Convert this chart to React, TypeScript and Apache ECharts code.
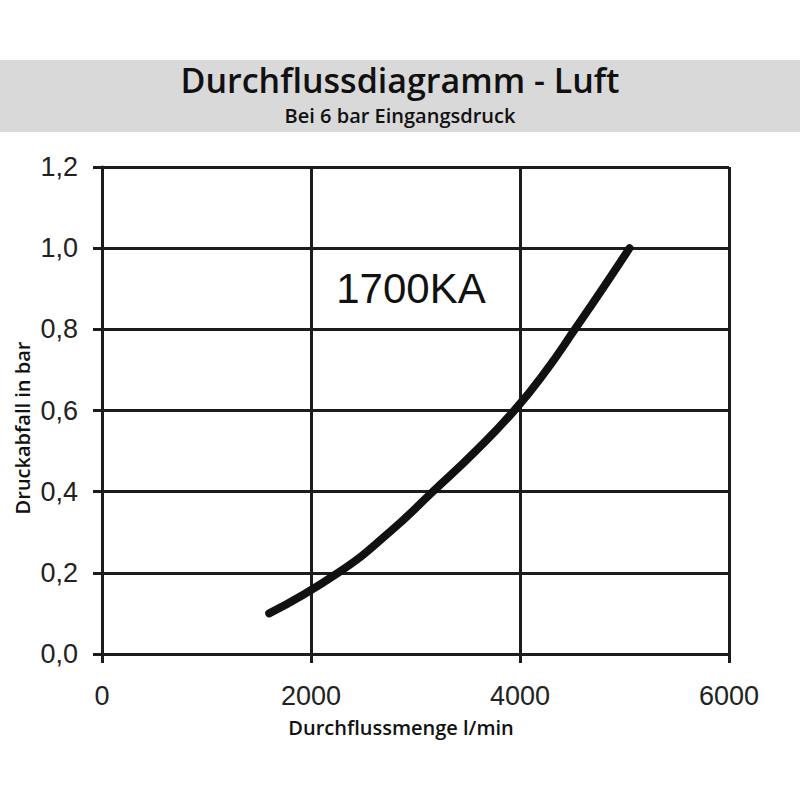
import { useEffect, useRef } from 'react'
import * as echarts from 'echarts'

// Durchflussmenge (l/min) und Druckabfall (bar)
const flow = [1600, 2258, 2750, 3166, 3575, 3945, 4255, 4525, 4790, 5048]
const pressureDrop = [0.1, 0.2, 0.3, 0.4, 0.5, 0.6, 0.7, 0.8, 0.9, 1.0]
const seriesName = '1700KA'

const INK = '#1c1c1c'

function App() {
  const chartRef = useRef<HTMLDivElement>(null)

  useEffect(() => {
    if (!chartRef.current) return
    const chart = echarts.init(chartRef.current, undefined, { renderer: 'svg' })

    const option: echarts.EChartsOption = {
      animation: false,
      backgroundColor: '#fff',
      title: {
        text: 'Durchflussdiagramm - Luft',
        subtext: 'Bei 6 bar Eingangsdruck',
        left: 'center',
        top: 55,
        itemGap: 5,
        textStyle: {
          fontFamily: 'Open Sans',
          fontWeight: 600,
          fontSize: 34,
          lineHeight: 40,
          color: '#111',
        },
        subtextStyle: {
          fontFamily: 'Open Sans',
          fontWeight: 600,
          fontSize: 20,
          lineHeight: 20,
          color: '#111',
        },
      },
      graphic: [
        {
          type: 'rect',
          z: -10,
          shape: { x: 0, y: 60, width: 800, height: 72 },
          style: { fill: '#d9d9d9' },
        },
        {
          type: 'text',
          x: 22,
          y: 428,
          rotation: Math.PI / 2,
          style: {
            text: 'Druckabfall in bar',
            fontFamily: 'Open Sans',
            fontWeight: 600,
            fontSize: 20,
            fill: '#111',
            align: 'center',
            verticalAlign: 'middle',
          },
        },
        {
          type: 'text',
          x: 401,
          y: 727,
          style: {
            text: 'Durchflussmenge l/min',
            fontFamily: 'Open Sans',
            fontWeight: 600,
            fontSize: 20,
            fill: '#111',
            align: 'center',
            verticalAlign: 'middle',
          },
        },
        {
          type: 'text',
          x: 411,
          y: 288,
          style: {
            text: seriesName,
            fontFamily: 'Liberation Sans',
            fontSize: 42,
            fill: '#111',
            align: 'center',
            verticalAlign: 'middle',
          },
        },
      ],
      grid: {
        left: 102,
        right: 71,
        top: 167,
        bottom: 146,
      },
      xAxis: {
        type: 'value',
        min: 0,
        max: 6000,
        interval: 2000,
        axisLine: { show: true, lineStyle: { color: INK, width: 3 } },
        axisTick: { show: true, length: 9, lineStyle: { color: INK, width: 3 } },
        axisLabel: {
          margin: 28,
          fontFamily: 'Liberation Sans',
          fontSize: 27,
          color: '#222',
          formatter: (v: number) => String(v),
        },
        splitLine: { show: true, lineStyle: { color: INK, width: 3 } },
      },
      yAxis: {
        type: 'value',
        min: 0,
        max: 1.2,
        interval: 0.2,
        axisLine: { show: true, lineStyle: { color: INK, width: 3 } },
        axisTick: { show: true, length: 9, lineStyle: { color: INK, width: 3 } },
        axisLabel: {
          margin: 24,
          fontFamily: 'Liberation Sans',
          fontSize: 27,
          color: '#222',
          formatter: (v: number) => v.toFixed(1).replace('.', ','),
        },
        splitLine: { show: true, lineStyle: { color: INK, width: 3 } },
      },
      series: [
        {
          name: seriesName,
          type: 'line',
          data: flow.map((x, i) => [x, pressureDrop[i]]),
          smooth: 0.5,
          showSymbol: false,
          symbol: 'none',
          lineStyle: { color: '#111', width: 8, cap: 'round' },
          z: 5,
        },
      ],
    }

    chart.setOption(option)

    return () => {
      chart.dispose()
    }
  }, [])

  return (
    <div
      ref={chartRef}
      style={{
        position: 'absolute',
        left: 0,
        top: 0,
        width: '800px',
        height: '800px',
      }}
    />
  )
}

export default App
